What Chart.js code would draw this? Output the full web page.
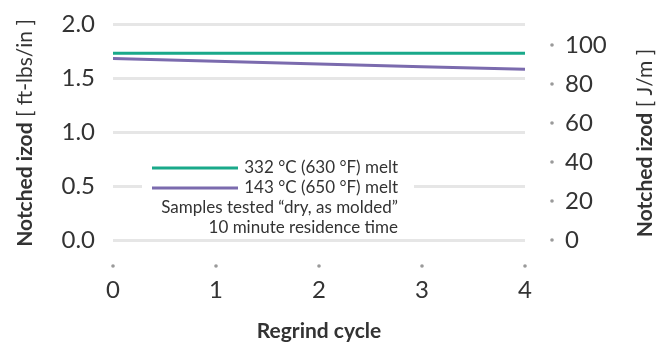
<!DOCTYPE html>
<html>
<head>
<meta charset="utf-8">
<script src="https://cdn.jsdelivr.net/npm/chart.js@4"></script>
<style>
  html, body { margin: 0; padding: 0; background: #fff; }
  #wrap { width: 672px; height: 344px; }
</style>
</head>
<body>
<div id="wrap"><canvas id="chart" width="672" height="344"></canvas></div>
<script>
// --- Data ---
const cycles = [0, 1, 2, 3, 4];
const melt332 = [1.73, 1.73, 1.73, 1.73, 1.73];
const melt143 = [1.68, 1.655, 1.63, 1.605, 1.58];
const seriesLabels = ['332 \u00b0C (630 \u00b0F) melt', '143 \u00b0C (650 \u00b0F) melt'];
const noteLines = ['Samples tested \u201cdry, as molded\u201d', '10 minute residence time'];
const leftTicks = [0, 0.5, 1.0, 1.5, 2.0];
const rightTicks = [0, 20, 40, 60, 80, 100];

const FONT = 'Lato, "Noto Sans", sans-serif';
const TEXT = '#333';
const DOT = '#9a9a9a';
const TITLE_SIZE = 21;

// --- Helpers ---
function drawDot(ctx, x, y) {
  ctx.beginPath();
  ctx.arc(x, y, 1.8, 0, Math.PI * 2);
  ctx.fillStyle = DOT;
  ctx.fill();
}

function drawMixedTitle(ctx, x, y, bold, regular) {
  ctx.save();
  ctx.translate(x, y);
  ctx.rotate(-Math.PI / 2);
  ctx.textBaseline = 'middle';
  ctx.fillStyle = TEXT;
  ctx.font = `bold ${TITLE_SIZE}px ${FONT}`;
  const w1 = ctx.measureText(bold).width;
  ctx.font = `${TITLE_SIZE}px ${FONT}`;
  const w2 = ctx.measureText(regular).width;
  let start = -(w1 + w2) / 2;
  ctx.font = `bold ${TITLE_SIZE}px ${FONT}`;
  ctx.textAlign = 'left';
  ctx.fillText(bold, start, 0);
  ctx.font = `${TITLE_SIZE}px ${FONT}`;
  ctx.fillText(regular, start + w1, 0);
  ctx.restore();
}

// no extra room above/below the y scales for half tick labels
function noPad(s) {
  s.paddingTop = 0;
  s.paddingBottom = 0;
}

// dots for ticks, axis titles and the in-plot legend
const decorPlugin = {
  id: 'decor',
  afterDraw(chart) {
    const { ctx, scales, chartArea } = chart;
    ctx.save();
    // x tick dots
    cycles.forEach(v => drawDot(ctx, scales.x.getPixelForValue(v), chartArea.bottom + 26));
    // right axis dots
    rightTicks.forEach(v => drawDot(ctx, chartArea.right + 27, scales.y1.getPixelForValue(v)));

    drawMixedTitle(ctx, 25, 133, 'Notched izod', ' [ ft-lbs/in ]');
    drawMixedTitle(ctx, 645, 143, 'Notched izod', ' [ J/m ]');

    // legend box
    ctx.fillStyle = '#fff';
    ctx.fillRect(142, 156, 272, 80);
    const colors = chart.data.datasets.map(d => d.borderColor);
    ctx.font = `17px ${FONT}`;
    ctx.textAlign = 'right';
    ctx.textBaseline = 'middle';
    const textX = 398;
    const rows = [168, 188, 208, 228];
    seriesLabels.forEach((lab, i) => {
      ctx.strokeStyle = colors[i];
      ctx.lineWidth = 3;
      ctx.beginPath();
      ctx.moveTo(152, rows[i]);
      ctx.lineTo(238, rows[i]);
      ctx.stroke();
      ctx.fillStyle = TEXT;
      ctx.fillText(lab, textX, rows[i]);
    });
    noteLines.forEach((t, i) => {
      ctx.fillStyle = TEXT;
      ctx.fillText(t, textX, rows[i + 2]);
    });
    ctx.restore();
  }
};

new Chart(document.getElementById('chart'), {
  type: 'line',
  data: {
    datasets: [
      {
        label: seriesLabels[0],
        data: cycles.map((c, i) => ({ x: c, y: melt332[i] })),
        borderColor: '#1aa98a',
        borderWidth: 3,
        pointRadius: 0,
        yAxisID: 'y'
      },
      {
        label: seriesLabels[1],
        data: cycles.map((c, i) => ({ x: c, y: melt143[i] })),
        borderColor: '#7b6bae',
        borderWidth: 3,
        pointRadius: 0,
        yAxisID: 'y'
      }
    ]
  },
  options: {
    responsive: false,
    animation: false,
    devicePixelRatio: 1,
    layout: { padding: { top: 24, left: 0, right: 0, bottom: 0 } },
    plugins: { legend: { display: false }, tooltip: { enabled: false } },
    scales: {
      x: {
        type: 'linear',
        min: 0,
        max: 4,
        grid: { display: false, drawTicks: false },
        border: { display: false },
        ticks: {
          stepSize: 1,
          padding: 36,
          color: TEXT,
          font: { family: FONT, size: 24 }
        },
        title: {
          display: true,
          text: 'Regrind cycle',
          color: TEXT,
          font: { family: FONT, size: TITLE_SIZE, weight: 'bold' },
          padding: { top: 0, bottom: 0 }
        },
        afterFit: s => { s.height = 104; s.paddingLeft = 0; s.paddingRight = 0; }
      },
      y: {
        position: 'left',
        min: 0,
        max: 2,
        afterBuildTicks: s => { s.ticks = leftTicks.map(v => ({ value: v })); },
        grid: { color: '#e6e6e6', lineWidth: 3, drawTicks: false },
        border: { display: false },
        ticks: {
          padding: 18,
          color: TEXT,
          font: { family: FONT, size: 24 },
          callback: v => v.toFixed(1)
        },
        afterFit: s => { s.width = 113; noPad(s); }
      },
      y1: {
        position: 'right',
        min: 0,
        max: 110.8,
        afterBuildTicks: s => { s.ticks = rightTicks.map(v => ({ value: v })); },
        grid: { display: false, drawTicks: false },
        border: { display: false },
        ticks: {
          padding: 40,
          color: TEXT,
          font: { family: FONT, size: 24 }
        },
        afterFit: s => { s.width = 147; noPad(s); }
      }
    }
  },
  plugins: [decorPlugin]
});
</script>
</body>
</html>
